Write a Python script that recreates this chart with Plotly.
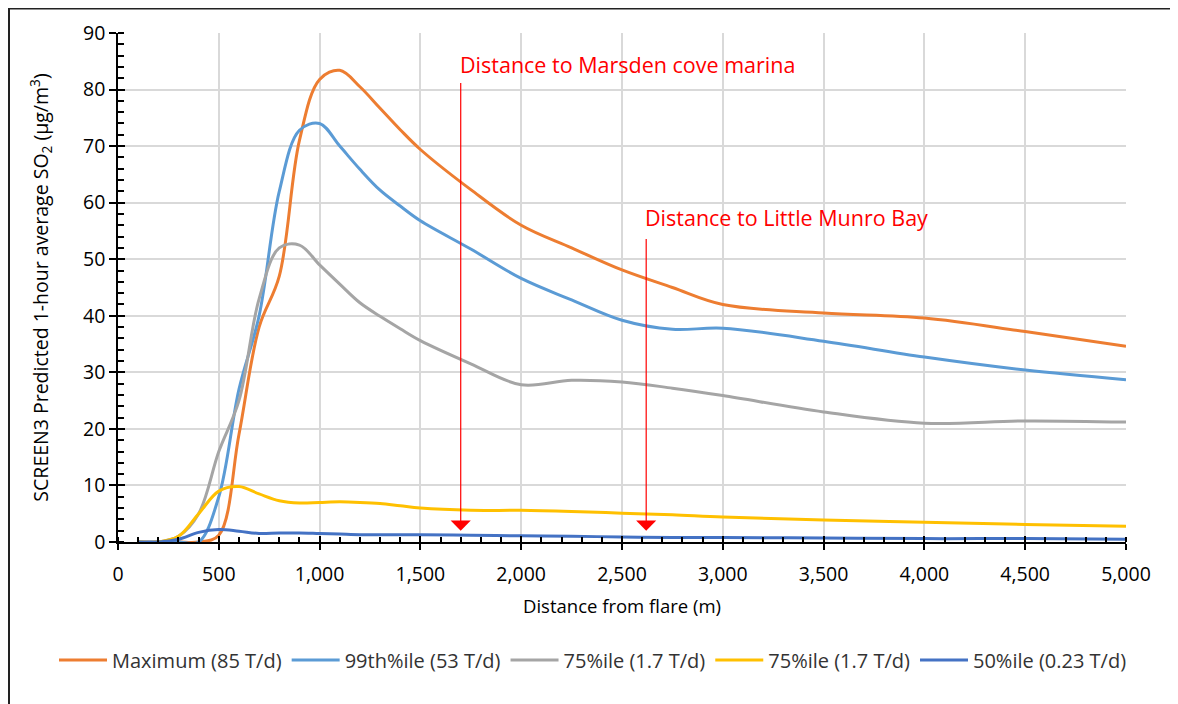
import plotly.graph_objects as go

distance = [100, 200, 300, 400, 500, 600, 700, 800, 900, 1000, 1100, 1200, 1300, 1400, 1500,
            1750, 2000, 2250, 2500, 2750, 3000, 3500, 4000, 4500, 5000]

maximum_85 = [0, 0, 0, 0, 1.2, 19, 38, 47, 71, 81.8, 83.4, 80.5, 76.7, 72.9, 69.4,
              62.3, 56, 52, 48.1, 45, 42, 40.5, 39.6, 37.2, 34.6]
p99_53 = [0, 0, 0, 0, 8, 27, 40, 62, 72.8, 74.0, 70.0, 65.9, 62.2, 59.4, 56.8,
          51.8, 46.6, 42.8, 39.2, 37.6, 37.8, 35.5, 32.7, 30.4, 28.7]
p75_17a = [0, 0, 1, 5, 16, 25, 43, 52, 52.5, 49, 45.6, 42.3, 39.9, 37.7, 35.6,
           31.5, 27.8, 28.6, 28.3, 27.2, 25.9, 23, 21, 21.4, 21.2]
p75_17b = [0, 0, 1, 5, 9, 9.8, 8.5, 7.3, 6.9, 7.0, 7.1, 7.0, 6.8, 6.4, 6.0,
           5.6, 5.6, 5.4, 5.1, 4.8, 4.4, 3.9, 3.5, 3.1, 2.8]
p50_023 = [0, 0, 0.5, 1.7, 2.2, 1.9, 1.5, 1.6, 1.6, 1.5, 1.4, 1.3, 1.3, 1.3, 1.3,
           1.2, 1.1, 1.0, 0.9, 0.8, 0.8, 0.7, 0.6, 0.6, 0.5]

series_names = ["Maximum (85 T/d)", "99th%ile (53 T/d)", "75%ile (1.7 T/d)",
                "75%ile (1.7 T/d)", "50%ile (0.23 T/d)"]
series_values = [maximum_85, p99_53, p75_17a, p75_17b, p50_023]
series_colors = ["#ED7D31", "#5B9BD5", "#A5A5A5", "#FFC000", "#4472C4"]

marker_labels = ["Distance to Marsden cove marina", "Distance to Little Munro Bay"]
marker_x = [1700, 2620]
marker_top = [81.7, 54.1]
label_y = [84.5, 57.4]
tip_y = 2.0

FONT = "Open Sans, Noto Sans, Liberation Sans, sans-serif"

fig = go.Figure()
for name, vals, col in zip(series_names, series_values, series_colors):
    fig.add_trace(go.Scatter(x=distance, y=vals, mode="lines", name=name,
                             line=dict(color=col, width=3, shape="spline", smoothing=1.0)))

# invisible trace to host the cross-tick axes
fig.add_trace(go.Scatter(x=[None], y=[None], xaxis="x2", yaxis="y2", showlegend=False,
                         hoverinfo="skip"))

annotations = []
for lab, mx, mt, ly in zip(marker_labels, marker_x, marker_top, label_y):
    annotations.append(dict(x=mx, y=tip_y, ax=mx, ay=mt, xref="x", yref="y", axref="x", ayref="y",
                            showarrow=True, arrowhead=1, arrowsize=2.8, arrowwidth=1.2,
                            arrowcolor="#FF0000", text=" ", font=dict(size=2)))
    annotations.append(dict(x=mx, y=ly, xref="x", yref="y", text=lab, showarrow=False,
                            xanchor="left", yanchor="middle", xshift=-3,
                            font=dict(family=FONT, size=21.5, color="#FF0000")))

# figure drawn at an 8px page offset: coordinates below are in figure pixels
W, H = 1170, 696
L, R, T, B = 110, 1118, 25, 534

def px(p):
    return (p - L) / (R - L)

def py(q):
    return (B - q) / (B - T)

shapes = [
    dict(type="line", xref="paper", yref="paper", x0=px(1), x1=px(1), y0=py(0), y1=py(H),
         line=dict(color="#222222", width=2)),
    dict(type="line", xref="paper", yref="paper", x0=px(0), x1=px(W), y0=py(0), y1=py(0),
         line=dict(color="#222222", width=3)),
    dict(type="line", xref="paper", yref="paper", x0=px(1168), x1=px(1168), y0=py(0), y1=py(H),
         line=dict(color="#D9D9D9", width=1)),
]

fig.update_layout(
    width=W, height=H,
    margin=dict(l=L, r=W - R, t=T, b=H - B),
    paper_bgcolor="white", plot_bgcolor="white",
    font=dict(family=FONT, size=19, color="#000000"),
    showlegend=True,
    legend=dict(orientation="h", x=px(46), xanchor="left", y=py(652), yanchor="middle",
                font=dict(family=FONT, size=20, color="#333333"), itemwidth=48,
                tracegroupgap=0),
    xaxis=dict(range=[0, 5000], dtick=500, tick0=0, tickformat=",",
               showgrid=True, gridcolor="#D9D9D9", gridwidth=1.5,
               showline=True, linecolor="#000000", linewidth=1.5,
               ticks="outside", ticklen=6, tickwidth=1.5, tickcolor="#000000",
               ticklabelstandoff=8,
               minor=dict(dtick=100, ticks="inside", ticklen=5, tickwidth=1.5, tickcolor="#000000",
                          showgrid=False),
               title=dict(text="Distance from flare (m)", font=dict(size=18.5), standoff=14),
               tickfont=dict(size=19.5), zeroline=False),
    yaxis=dict(range=[0, 90], dtick=10, tick0=0,
               showgrid=True, gridcolor="#D9D9D9", gridwidth=1.5,
               showline=True, linecolor="#000000", linewidth=1.5,
               ticks="outside", ticklen=7, tickwidth=1.5, tickcolor="#000000",
               minor=dict(dtick=2, ticks="inside", ticklen=6, tickwidth=1.5, tickcolor="#000000",
                          showgrid=False),
               title=dict(text="SCREEN3 Predicted 1-hour average SO<sub>2</sub> (µg/m<sup>3</sup>)",
                          font=dict(size=19.5), standoff=29),
               tickfont=dict(size=19.5), zeroline=False),
    xaxis2=dict(overlaying="x", range=[0, 5000], dtick=500, tick0=0, showgrid=False,
                showticklabels=False, ticks="inside", ticklen=6, tickwidth=1.5,
                tickcolor="#000000", showline=False, zeroline=False, side="bottom"),
    yaxis2=dict(overlaying="y", range=[0, 90], dtick=10, tick0=0, showgrid=False,
                showticklabels=False, ticks="inside", ticklen=7, tickwidth=1.5,
                tickcolor="#000000", showline=False, zeroline=False, side="left"),
    annotations=annotations,
    shapes=shapes,
)

fig.write_html("out.html")
